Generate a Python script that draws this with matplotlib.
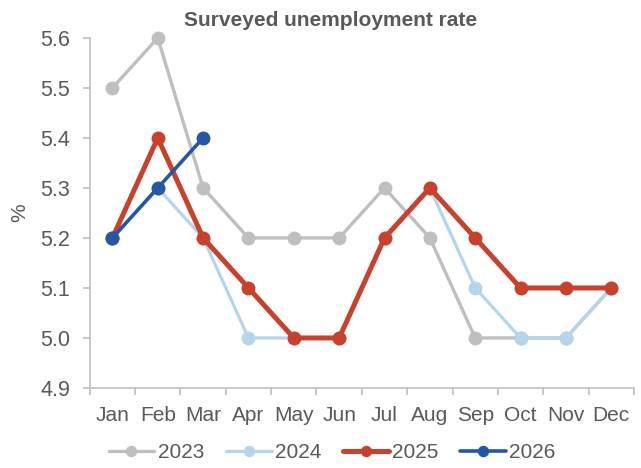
import matplotlib
matplotlib.use("Agg")
import matplotlib.pyplot as plt
import numpy as np

plt.rcParams['font.family'] = ['Liberation Sans', 'DejaVu Sans']

months = ['Jan', 'Feb', 'Mar', 'Apr', 'May', 'Jun', 'Jul', 'Aug', 'Sep', 'Oct', 'Nov', 'Dec']
y2023 = [5.5, 5.6, 5.3, 5.2, 5.2, 5.2, 5.3, 5.2, 5.0, 5.0, 5.0, 5.1]
y2024 = [5.2, 5.3, 5.2, 5.0, 5.0, 5.0, 5.2, 5.3, 5.1, 5.0, 5.0, 5.1]
y2025 = [5.2, 5.4, 5.2, 5.1, 5.0, 5.0, 5.2, 5.3, 5.2, 5.1, 5.1, 5.1]
y2026 = [5.2, 5.3, 5.4]

series = [
    ('2023', y2023, '#BFBFBF', 2.4),
    ('2024', y2024, '#B4D5EB', 2.3),
    ('2025', y2025, '#C9402B', 3.6),
    ('2026', y2026, '#2457A6', 2.6),
]

txt = '#595959'
axc = '#BFBFBF'

fig = plt.figure(figsize=(6.41, 4.68), dpi=100)
ax = fig.add_axes([0.140, 0.171, 0.849, 0.748])

for name, vals, col, lw in series:
    x = np.arange(len(vals))
    ax.plot(x, vals, color=col, lw=lw, marker='o', ms=9, label=name,
            solid_capstyle='round', zorder=3, clip_on=False)

ax.set_xlim(-0.5, 11.5)
ax.set_ylim(4.9, 5.6)
yt = np.arange(4.9, 5.61, 0.1)
ax.set_yticks(yt)
ax.set_yticklabels([f'{v:.1f}' for v in yt])
ax.set_xticks(np.arange(12))
ax.set_xticklabels(months)
ax.set_xticks(np.arange(-0.5, 12, 1), minor=True)
ax.tick_params(axis='x', which='major', length=0, pad=13, labelsize=15, labelcolor=txt)
ax.tick_params(axis='x', which='minor', length=5, color=axc, width=1.2)
ax.tick_params(axis='y', length=5, color=axc, width=1.2, labelsize=15.5, labelcolor=txt, pad=9)

for s in ['top', 'right']:
    ax.spines[s].set_visible(False)
for s in ['left', 'bottom']:
    ax.spines[s].set_color(axc)
    ax.spines[s].set_linewidth(1.2)

ax.set_ylabel('%', fontsize=15, color=txt, labelpad=8)
fig.text(0.515, 0.957, 'Surveyed unemployment rate', fontsize=15, fontweight='bold',
         color=txt, ha='center', va='center')

leg = fig.legend(loc='lower center', ncol=4, frameon=False, fontsize=15,
                 bbox_to_anchor=(0.518, -0.028), handlelength=2.2,
                 handletextpad=0.15, columnspacing=1.05, markerscale=0.8)
for t in leg.get_texts():
    t.set_color(txt)

fig.savefig('out.png', dpi=100)
